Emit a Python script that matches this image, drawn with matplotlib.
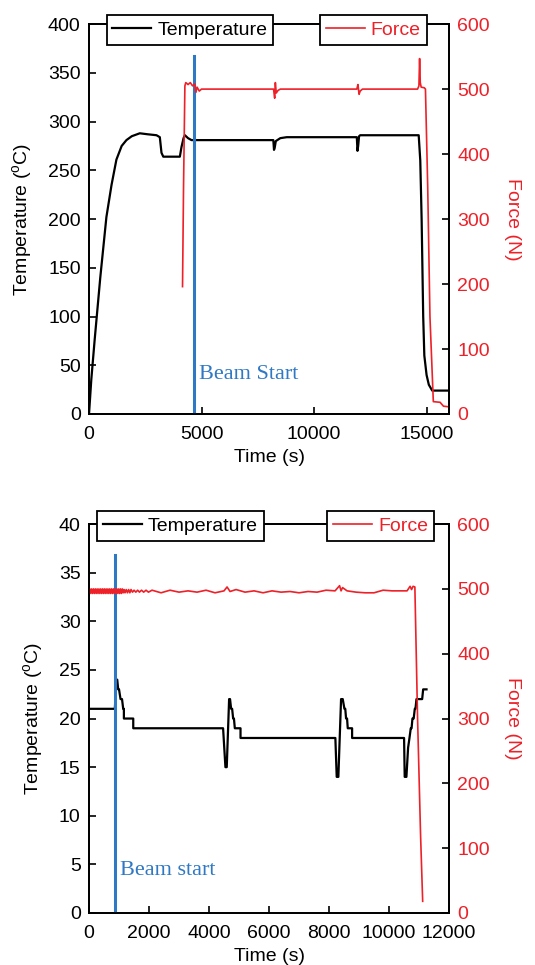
import matplotlib
matplotlib.use("Agg")
import matplotlib.pyplot as plt
from matplotlib.ticker import MultipleLocator

plt.rcParams['font.family'] = ['Liberation Sans', 'DejaVu Sans']
plt.rcParams['mathtext.default'] = 'regular'

# ---------------- data: top panel ----------------
t1_temp_time = [0, 100, 250, 500, 772, 1000, 1217, 1450, 1662, 1900, 2256, 2600, 3000, 3146,
                3220, 3300, 4036, 4110, 4200, 4260, 4400, 4555, 4778, 8190, 8220, 8250, 8300,
                8500, 8785, 11900, 11930, 11960, 12000, 12050, 14650, 14720, 14780, 14850,
                14900, 15000, 15100, 15250, 16000]
t1_temp = [0, 35, 76, 140, 202, 235, 261, 275, 281, 285, 288, 287, 286, 284,
           268, 264, 264, 274, 283, 286, 283, 281, 281, 281, 271, 273, 280,
           283, 284, 284, 270, 275, 285, 286, 286, 260, 200, 100,
           60, 40, 30, 24, 24]

t1_force_time = [4155, 4200, 4260, 4300, 4400, 4500, 4600, 4700, 4750, 4800, 4900, 5000,
                 8200, 8250, 8280, 8320, 8400, 8500, 11900, 11950, 12000, 12050, 12150,
                 14600, 14660, 14690, 14720, 14760, 14900, 14950, 15050, 15150, 15300,
                 15600, 15750, 16000]
t1_force = [196, 350, 505, 510, 507, 510, 505, 508, 495, 503, 497, 500,
            500, 486, 510, 494, 498, 500, 500, 507, 492, 497, 500,
            500, 505, 547, 510, 503, 502, 500, 350, 150, 19,
            18, 12, 11]

beam1_x = 4650
beam1_top = 367

# ---------------- data: bottom panel ----------------
t2_temp_time = [0, 860, 916, 940, 972, 1000, 1050, 1100, 1139, 1162, 1162, 1474, 1474, 4468,
                4546, 4590, 4669, 4700, 4736, 4770, 4803, 4830, 4859, 5049, 5049, 8210,
                8255, 8310, 8400, 8456, 8512, 8540, 8567, 8600, 8623, 8768, 8768, 10500,
                10521, 10578, 10634, 10680, 10723, 10750, 10779, 10820, 10857, 10880,
                10913, 11103, 11136, 11248]
t2_temp = [21, 21, 24, 24, 23, 23, 22, 22, 21, 21, 20, 20, 19, 19,
           15, 15, 22, 22, 21, 21, 20, 20, 19, 19, 18, 18,
           14, 14, 22, 22, 21, 21, 20, 20, 19, 19, 18, 18,
           14, 14, 17, 18, 19, 19, 20, 20, 21, 21,
           22, 22, 23, 23]

t2_force_time = [0, 30, 60, 90, 120, 150, 180, 210, 240, 270, 300, 330, 360, 390, 420, 450,
                 480, 510, 540, 570, 600, 630, 660, 690, 720, 750, 780, 810, 840, 870, 900,
                 930, 960, 990, 1020, 1050, 1080, 1110, 1140, 1170, 1200, 1240, 1280, 1320,
                 1360, 1400, 1450, 1500, 1560, 1620, 1680, 1750, 1820, 1900, 1980,
                 2100, 2400, 2700, 3000, 3300,
                 3600, 3900, 4200, 4500, 4600, 4700, 4900, 5200, 5500, 5800, 6100, 6400,
                 6700, 7000, 7300, 7600, 7900, 8200, 8350, 8400, 8450, 8600, 8900, 9200,
                 9500, 9800, 10100, 10400, 10600, 10700, 10750, 10800, 10860, 10950, 11050,
                 11120]
t2_force = [493, 500, 493, 500, 493, 500, 493, 500, 493, 500, 493, 500, 493, 500, 493, 500,
            493, 500, 493, 500, 493, 500, 493, 500, 493, 500, 493, 500, 493, 500, 493,
            500, 493, 500, 493, 500, 493, 500, 494, 499, 494, 499, 494, 499,
            494, 499, 495, 498, 495, 498, 495, 498, 495, 498, 495,
            498, 494, 498, 495, 497,
            495, 498, 494, 497, 503, 496, 499, 495, 497, 494, 497, 495,
            496, 494, 496, 495, 498, 497, 505, 497, 502, 497, 495, 494,
            494, 498, 497, 497, 497, 504, 499, 504, 503, 300, 120,
            18]

beam2_x = 870
beam2_top = 36.8

RED = '#ee2028'
BLUE = '#2f78c4'
FS = 14

fig = plt.figure(figsize=(5.35, 9.65), dpi=100)


def style_axes(ax, ax2):
    for a in (ax, ax2):
        for s in a.spines.values():
            s.set_linewidth(1.3)
            s.set_color('black')
    ax.tick_params(axis='y', direction='in', length=5, width=1.2, labelsize=FS,
                   right=False, pad=6)
    ax.tick_params(axis='x', direction='in', length=5, width=1.2, labelsize=FS,
                   top=False, pad=9)
    ax2.tick_params(axis='y', direction='in', length=5, width=1.2, labelsize=FS,
                    labelcolor=RED, colors='black', pad=6)
    for lab in ax2.get_yticklabels():
        lab.set_color(RED)


def make_panel(rect, tt, tv, ft, fv, xlim, xstep, ylim, ystep, bx, btop, btext, bxy,
               leg1x, leg2x, legy):
    ax = fig.add_axes(rect)
    ax2 = ax.twinx()
    l1, = ax.plot(tt, tv, color='black', lw=1.6, label='Temperature')
    l2, = ax2.plot(ft, fv, color=RED, lw=1.2, label='Force')
    ax.plot([bx, bx], [0, btop], color=BLUE, lw=2.2, zorder=5)
    ax.text(bxy[0], bxy[1], btext, color=BLUE, fontsize=16,
            family=['Liberation Serif', 'DejaVu Serif'], va='center', ha='left')
    ax.set_xlim(*xlim)
    ax.set_ylim(*ylim)
    ax2.set_ylim(0, 600)
    ax.xaxis.set_major_locator(MultipleLocator(xstep))
    ax.yaxis.set_major_locator(MultipleLocator(ystep))
    ax2.yaxis.set_major_locator(MultipleLocator(100))
    ax.set_xlabel('Time (s)', fontsize=FS, labelpad=4)
    ax.set_ylabel(r'Temperature ($^{o}$C)', fontsize=FS, labelpad=10)
    ax2.set_ylabel('Force (N)', fontsize=FS, color=RED, rotation=270, labelpad=22)
    style_axes(ax, ax2)
    lg1 = ax2.legend(handles=[l1], loc='center', bbox_to_anchor=(leg1x, legy),
                     fontsize=FS, frameon=True, fancybox=False, edgecolor='black',
                     framealpha=1, handlelength=2.0, handletextpad=0.3,
                     borderpad=0.3, borderaxespad=0)
    lg1.get_frame().set_linewidth(1.3)
    ax2.add_artist(lg1)
    lg2 = ax2.legend(handles=[l2], loc='center', bbox_to_anchor=(leg2x, legy),
                     fontsize=FS, frameon=True, fancybox=False, edgecolor='black',
                     framealpha=1, handlelength=2.0, handletextpad=0.3,
                     borderpad=0.3, borderaxespad=0)
    lg2.get_frame().set_linewidth(1.3)
    for t in lg2.get_texts():
        t.set_color(RED)
    return ax, ax2


make_panel([0.1664, 0.571, 0.673, 0.404], t1_temp_time, t1_temp, t1_force_time, t1_force,
           (0, 16000), 5000, (0, 400), 50, beam1_x, beam1_top, 'Beam Start', (4870, 40),
           0.28, 0.79, 0.985)

make_panel([0.1664, 0.0539, 0.673, 0.403], t2_temp_time, t2_temp, t2_force_time, t2_force,
           (0, 12000), 2000, (0, 40), 5, beam2_x, beam2_top, 'Beam start', (1030, 4.4),
           0.254, 0.81, 0.995)

fig.savefig('out.png', dpi=100, facecolor='white')
